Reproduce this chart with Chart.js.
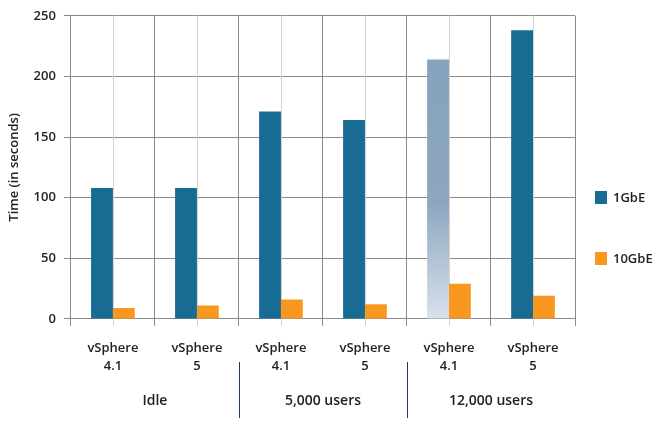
<!DOCTYPE html>
<html>
<head>
<meta charset="utf-8">
<script src="https://cdn.jsdelivr.net/npm/chart.js@4"></script>
<style>
  html, body { margin: 0; padding: 0; background: #fff; }
  #wrap { width: 666px; height: 422px; }
</style>
</head>
<body>
<div id="wrap"><canvas id="timeChart" width="666" height="422"></canvas></div>
<script>
const categories = [["vSphere", "4.1"], ["vSphere", "5"], ["vSphere", "4.1"], ["vSphere", "5"], ["vSphere", "4.1"], ["vSphere", "5"]];
const groups = ["Idle", "5,000 users", "12,000 users"];
const seriesNames = ["1GbE", "10GbE"];
const gbe1 = [108, 108, 171, 164, 214, 238];
const gbe10 = [9, 11, 16, 12, 29, 19];
const yTicks = [0, 50, 100, 150, 200, 250];

const BLUE = "#186b92";
const ORANGE = "#f89820";
const FONT = "'Open Sans', sans-serif";
const GRID = "#8a8a8a";

// the faded bar (12,000 users, vSphere 4.1)
function fadedBlue(ctx) {
  const chart = ctx.chart;
  if (ctx.dataIndex !== 4) return BLUE;
  const area = chart.chartArea;
  if (!area) return "#8aa5be";
  const y = chart.scales.y;
  const top = y.getPixelForValue(gbe1[4]);
  const g = chart.ctx.createLinearGradient(0, top, 0, area.bottom);
  g.addColorStop(0, "#87a2bc");
  g.addColorStop(0.55, "#8ca6bf");
  g.addColorStop(1, "#d9e1ec");
  return g;
}

// light lines through the middle of each category
const centerLines = {
  id: "centerLines",
  beforeDatasetsDraw(chart) {
    const { ctx, chartArea, scales } = chart;
    ctx.save();
    ctx.strokeStyle = "#d2d2d2";
    ctx.lineWidth = 1;
    categories.forEach((c, i) => {
      const x = Math.round(scales.x.getPixelForValue(i)) + 0.5;
      ctx.beginPath();
      ctx.moveTo(x, chartArea.top);
      ctx.lineTo(x, chartArea.bottom + 7);
      ctx.stroke();
    });
    ctx.restore();
  }
};

// group row under the x labels, plus the legend on the right
const groupRow = {
  id: "groupRow",
  afterDraw(chart) {
    const { ctx, chartArea, scales } = chart;
    const x = scales.x;
    const half = (x.getPixelForValue(1) - x.getPixelForValue(0)) / 2;
    ctx.save();
    ctx.font = "600 14px " + FONT;
    ctx.fillStyle = "#222";
    ctx.textAlign = "center";
    ctx.textBaseline = "middle";
    groups.forEach((g, i) => {
      const cx = (x.getPixelForValue(i * 2) + x.getPixelForValue(i * 2 + 1)) / 2;
      ctx.fillText(g, cx, 401);
      if (i > 0) {
        const lx = Math.round(x.getPixelForValue(i * 2) - half) + 0.5;
        ctx.strokeStyle = "#1f3b6e";
        ctx.lineWidth = 1;
        ctx.beginPath();
        ctx.moveTo(lx, 362);
        ctx.lineTo(lx, 418);
        ctx.stroke();
      }
    });

    // legend
    const colors = [BLUE, ORANGE];
    ctx.textAlign = "left";
    ctx.font = "600 13px " + FONT;
    seriesNames.forEach((name, i) => {
      const ly = 197 + i * 61;
      ctx.fillStyle = colors[i];
      ctx.fillRect(chartArea.right + 20, ly - 6, 12, 13);
      ctx.fillStyle = "#222";
      ctx.fillText(name, chartArea.right + 38, ly + 1);
    });
    ctx.restore();
  }
};

new Chart(document.getElementById("timeChart"), {
  type: "bar",
  data: {
    labels: categories,
    datasets: [
      { label: seriesNames[0], data: gbe1, backgroundColor: fadedBlue },
      { label: seriesNames[1], data: gbe10, backgroundColor: ORANGE }
    ]
  },
  options: {
    responsive: false,
    animation: false,
    layout: { padding: { top: 10, right: 91, bottom: 33, left: 6 } },
    datasets: { bar: { categoryPercentage: 0.52, barPercentage: 1.0 } },
    plugins: {
      legend: { display: false },
      tooltip: { enabled: false }
    },
    scales: {
      x: {
        offset: true,
        grid: { offset: true, color: GRID, tickLength: 7 },
        border: { color: GRID },
        ticks: { color: "#222", padding: 14, font: { family: FONT, size: 13, weight: "600", lineHeight: 1.35 } }
      },
      y: {
        min: 0,
        max: 250,
        afterBuildTicks(axis) { axis.ticks = yTicks.map(v => ({ value: v })); },
        grid: { color: GRID, tickLength: 7 },
        border: { color: GRID },
        ticks: { color: "#222", padding: 8, font: { family: FONT, size: 13, weight: "600" } },
        title: { display: true, text: "Time (in seconds)", color: "#222", padding: { top: 0, bottom: 4 }, font: { family: FONT, size: 13, weight: "600" } }
      }
    }
  },
  plugins: [centerLines, groupRow]
});
</script>
</body>
</html>
